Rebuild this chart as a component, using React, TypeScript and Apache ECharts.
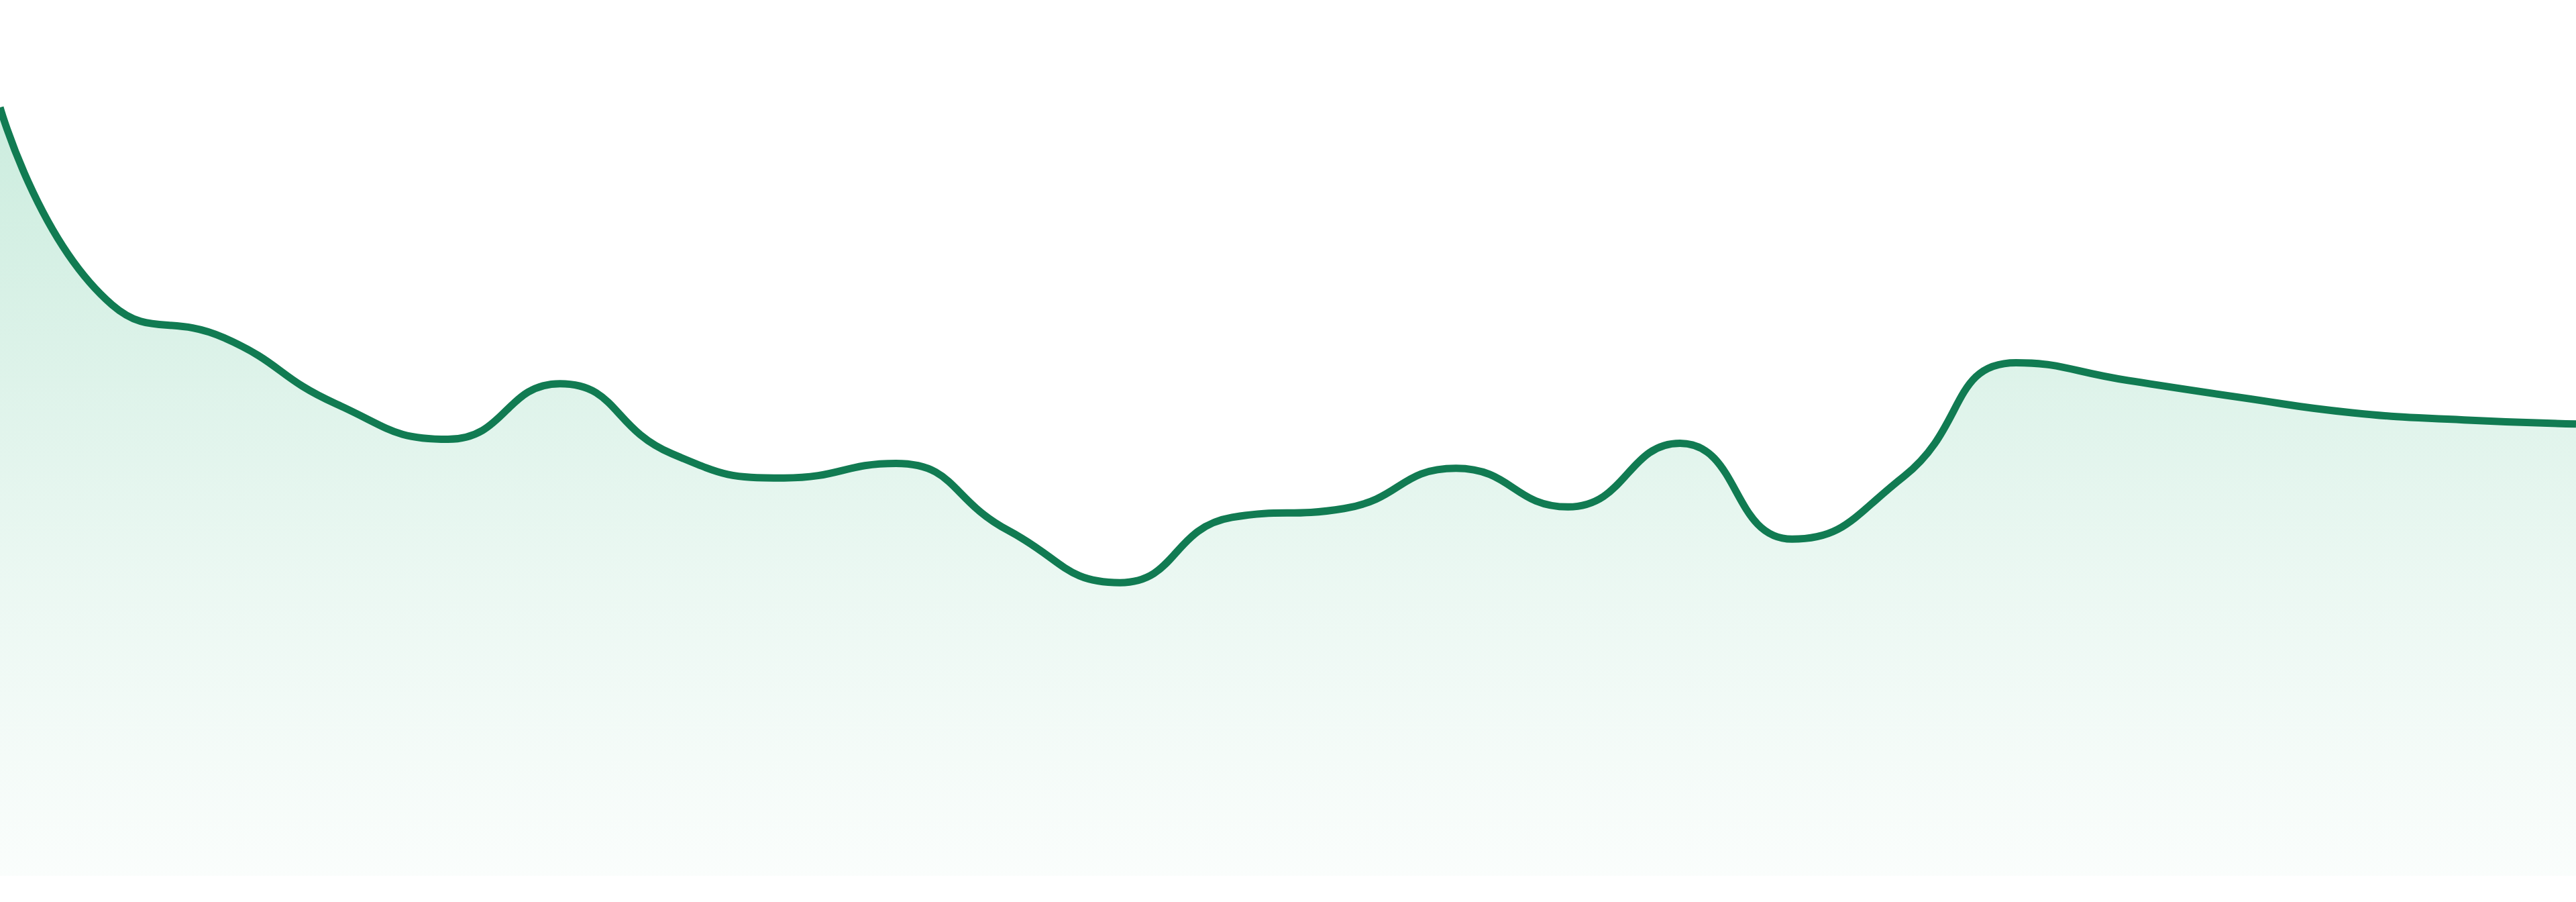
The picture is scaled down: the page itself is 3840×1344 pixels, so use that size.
import { useEffect, useRef } from 'react';
import * as echarts from 'echarts';

// 24 hourly samples, no axes shown
const hours = [
  '00:00', '01:00', '02:00', '03:00', '04:00', '05:00', '06:00', '07:00',
  '08:00', '09:00', '10:00', '11:00', '12:00', '13:00', '14:00', '15:00',
  '16:00', '17:00', '18:00', '19:00', '20:00', '21:00', '22:00', '23:00',
];
const values = [
  95.4, 70.9, 66.8, 58.6, 54.2, 61.1, 52.4, 49.4,
  51.2, 42.9, 36.4, 44.5, 45.6, 50.6, 45.8, 53.7,
  41.8, 49.6, 63.7, 61.5, 59.4, 57.5, 56.6, 56.1,
];

const lineColor = '#117b52';

const App = () => {
  const chartDom = useRef<HTMLDivElement>(null);

  useEffect(() => {
    document.body.style.margin = '0';
    const chart = echarts.init(chartDom.current, null, { renderer: 'svg' });

    const option = {
      animation: false,
      tooltip: { show: false },
      grid: { left: 0, right: 0, top: '7.8%', bottom: '2.9%', containLabel: false },
      xAxis: {
        type: 'category',
        data: hours,
        boundaryGap: false,
        show: false,
      },
      yAxis: {
        type: 'value',
        min: 0,
        max: 100,
        show: false,
        splitLine: { show: false },
      },
      series: [
        {
          type: 'line',
          data: values,
          smooth: true,
          symbol: 'none',
          lineStyle: { color: lineColor, width: 11 },
          areaStyle: {
            color: new echarts.graphic.LinearGradient(0, 0, 0, 1, [
              { offset: 0, color: 'rgba(20,170,105,0.31)' },
              { offset: 0.62, color: 'rgba(20,170,105,0.12)' },
              { offset: 1, color: 'rgba(20,170,105,0.03)' },
            ]),
          },
        },
      ],
    };

    chart.setOption(option);
    return () => {
      chart.dispose();
    };
  }, []);

  return (
    <div
      ref={chartDom}
      style={{ position: 'fixed', left: 0, top: 0, right: 0, bottom: 0, background: '#fff' }}
    />
  );
};

export default App;
